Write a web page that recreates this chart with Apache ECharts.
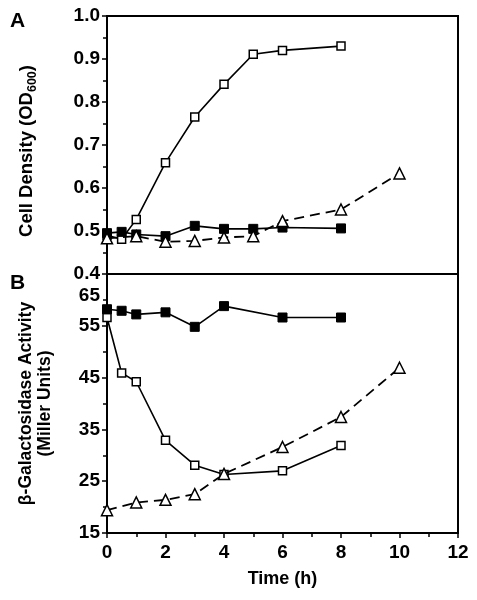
<!DOCTYPE html>
<html>
<head>
<meta charset="utf-8">
<script src="https://cdn.jsdelivr.net/npm/echarts@6/dist/echarts.min.js"></script>
<style>html,body{margin:0;padding:0;background:#fff;}#c{width:477px;height:600px;}</style>
</head>
<body>
<div id="c"></div>
<script>
// ---- Data ----
// Panel A: cell density (OD600)
var odFilledTime = [0, 0.5, 1, 2, 3, 4, 5, 6, 8];
var odFilled = [0.495, 0.498, 0.492, 0.488, 0.512, 0.505, 0.505, 0.508, 0.506];
var odOpenTime = [0, 0.5, 1, 2, 3, 4, 5, 6, 8];
var odOpen = [0.49, 0.481, 0.527, 0.659, 0.765, 0.841, 0.911, 0.92, 0.93];
var odTriTime = [0, 1, 2, 3, 4, 5, 6, 8, 10];
var odTri = [0.483, 0.488, 0.475, 0.477, 0.485, 0.488, 0.523, 0.55, 0.634];
// Panel B: beta-galactosidase activity (Miller units)
var galFilledTime = [0, 0.5, 1, 2, 3, 4, 6, 8];
var galFilled = [58.2, 57.9, 57.2, 57.6, 54.8, 58.8, 56.6, 56.6];
var galOpenTime = [0, 0.5, 1, 2, 3, 4, 6, 8];
var galOpen = [56.6, 45.9, 44.2, 32.9, 28.1, 26.3, 27.0, 31.9];
var galTriTime = [0, 1, 2, 3, 4, 6, 8, 10];
var galTri = [19.4, 20.9, 21.4, 22.5, 26.4, 31.6, 37.4, 46.9];
// Axis ticks
var odTicks = ['0.4', '0.5', '0.6', '0.7', '0.8', '0.9', '1.0'];
var galTicks = ['15', '25', '35', '45', '55', '65'];
var timeTicks = ['0', '2', '4', '6', '8', '10', '12'];

function pairs(t, v) { return t.map(function (x, i) { return [x, v[i]]; }); }

var FONT = 'Liberation Sans, Arial, Helvetica, sans-serif';
var labelStyle = { color: '#000', fontSize: 19, fontWeight: 'bold', fontFamily: FONT };

function filledSeries(x, y, data) {
  return { type: 'line', xAxisIndex: x, yAxisIndex: y, data: data, symbol: 'rect', symbolSize: 9,
    lineStyle: { color: '#000', width: 1.6 }, itemStyle: { color: '#000', borderColor: '#000', borderWidth: 1 },
    z: 3, animation: false };
}
function openSeries(x, y, data) {
  return { type: 'line', xAxisIndex: x, yAxisIndex: y, data: data, symbol: 'rect', symbolSize: 8,
    lineStyle: { color: '#000', width: 1.6 }, itemStyle: { color: '#fff', borderColor: '#000', borderWidth: 1.5 },
    z: 2, animation: false };
}
function triSeries(x, y, data) {
  return { type: 'line', xAxisIndex: x, yAxisIndex: y, data: data, symbol: 'triangle', symbolSize: 11,
    lineStyle: { color: '#000', width: 1.8, type: [10, 6] }, itemStyle: { color: '#fff', borderColor: '#000', borderWidth: 1.5 },
    z: 4, animation: false };
}

var chart = echarts.init(document.getElementById('c'), null, { renderer: 'canvas' });
chart.setOption({
  backgroundColor: '#fff',
  animation: false,
  grid: [
    { left: 107, right: 19, top: 16, height: 258, show: true, borderColor: '#000', borderWidth: 2, backgroundColor: 'transparent' },
    { left: 107, right: 19, top: 274, bottom: 67, show: true, borderColor: '#000', borderWidth: 2, backgroundColor: 'transparent' }
  ],
  xAxis: [
    { gridIndex: 0, type: 'value', min: 0, max: 12, interval: 2, show: false },
    { gridIndex: 1, type: 'value', min: 0, max: 12, interval: 2,
      axisLine: { lineStyle: { color: '#000', width: 2 } },
      axisTick: { length: 5, lineStyle: { color: '#000', width: 1.5 } },
      minorTick: { show: true, splitNumber: 2, length: 4, lineStyle: { color: '#000', width: 1.5 } },
      splitLine: { show: false },
      axisLabel: Object.assign({ margin: 10, formatter: function (v) { return timeTicks[Math.round(v / 2)]; } }, labelStyle),
      name: 'Time (h)', nameLocation: 'middle', nameGap: 37,
      nameTextStyle: { color: '#000', fontSize: 18, fontWeight: 'bold', fontFamily: FONT } }
  ],
  yAxis: [
    { gridIndex: 0, type: 'value', min: 0.4, max: 1.0, interval: 0.1,
      axisLine: { lineStyle: { color: '#000', width: 2 } },
      axisTick: { length: 5, lineStyle: { color: '#000', width: 1.5 } },
      minorTick: { show: true, splitNumber: 2, length: 4, lineStyle: { color: '#000', width: 1.5 } },
      splitLine: { show: false },
      axisLabel: Object.assign({ margin: 7, formatter: function (v) { return odTicks[Math.round((v - 0.4) * 10)]; } }, labelStyle),
      name: '{m|Cell Density (OD}{s|600}{m|)}', nameLocation: 'middle', nameRotate: 90, nameGap: 68,
      nameTextStyle: { padding: [0, 12, 0, 0], rich: {
        m: { color: '#000', fontSize: 18.5, fontWeight: 'bold', fontFamily: FONT, lineHeight: 24 },
        s: { color: '#000', fontSize: 12.5, fontWeight: 'bold', fontFamily: FONT, lineHeight: 12, verticalAlign: 'bottom' }
      } } },
    { gridIndex: 1, type: 'value', min: 15, max: 65, interval: 10,
      axisLine: { lineStyle: { color: '#000', width: 2 } },
      axisTick: { length: 5, lineStyle: { color: '#000', width: 1.5 } },
      minorTick: { show: true, splitNumber: 2, length: 4, lineStyle: { color: '#000', width: 1.5 } },
      splitLine: { show: false },
      axisLabel: Object.assign({ margin: 7,
        formatter: function (v) { var i = Math.round((v - 15) / 10); return i === galTicks.length - 1 ? '{lo|' + galTicks[i] + '}' : galTicks[i]; },
        rich: { lo: { color: '#000', fontSize: 19, fontWeight: 'bold', fontFamily: FONT, padding: [44, 0, 0, 0] } } }, labelStyle),
      name: '{m|β-Galactosidase Activity}\n{m|(Miller Units)}', nameLocation: 'middle', nameRotate: 90, nameGap: 52,
      nameTextStyle: { rich: {
        m: { color: '#000', fontSize: 17.5, fontWeight: 'bold', fontFamily: FONT, lineHeight: 19 }
      } } }
  ],
  graphic: [
    { type: 'text', left: 10, top: 11, style: { text: 'A', fill: '#000', font: 'bold 21px ' + FONT } },
    { type: 'text', left: 10, top: 273, style: { text: 'B', fill: '#000', font: 'bold 21px ' + FONT } }
  ],
  series: [
    openSeries(0, 0, pairs(odOpenTime, odOpen)),
    filledSeries(0, 0, pairs(odFilledTime, odFilled)),
    triSeries(0, 0, pairs(odTriTime, odTri)),
    openSeries(1, 1, pairs(galOpenTime, galOpen)),
    filledSeries(1, 1, pairs(galFilledTime, galFilled)),
    triSeries(1, 1, pairs(galTriTime, galTri))
  ]
});
</script>
</body>
</html>
